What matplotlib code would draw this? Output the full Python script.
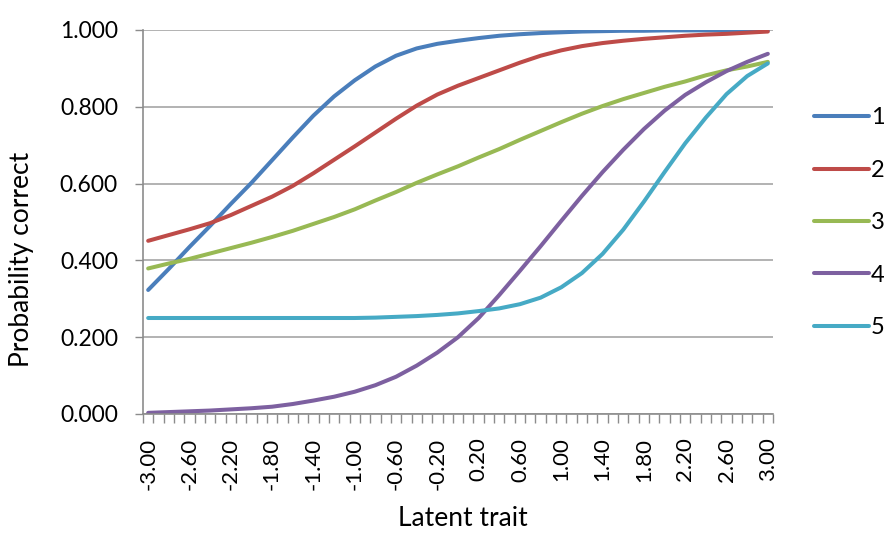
import matplotlib
matplotlib.use("Agg")
import matplotlib.pyplot as plt
import numpy as np

# latent trait values (every 0.2) and probability of a correct answer per item
theta = [-3.0, -2.8, -2.6, -2.4, -2.2, -2.0, -1.8, -1.6, -1.4, -1.2, -1.0,
         -0.8, -0.6, -0.4, -0.2, 0.0, 0.2, 0.4, 0.6, 0.8, 1.0,
         1.2, 1.4, 1.6, 1.8, 2.0, 2.2, 2.4, 2.6, 2.8, 3.0]

item_1 = [0.323, 0.378, 0.435, 0.490, 0.547, 0.602, 0.661, 0.720, 0.777, 0.827, 0.869,
          0.905, 0.933, 0.952, 0.964, 0.972, 0.979, 0.985, 0.989, 0.992, 0.994,
          0.996, 0.997, 0.998, 0.998, 0.999, 0.999, 0.999, 0.999, 0.999, 0.999]
item_2 = [0.451, 0.466, 0.481, 0.497, 0.518, 0.542, 0.566, 0.594, 0.627, 0.662, 0.697,
          0.733, 0.769, 0.803, 0.832, 0.855, 0.875, 0.895, 0.915, 0.933, 0.947,
          0.958, 0.966, 0.972, 0.977, 0.981, 0.985, 0.988, 0.990, 0.993, 0.996]
item_3 = [0.379, 0.392, 0.404, 0.418, 0.432, 0.446, 0.461, 0.477, 0.495, 0.513, 0.533,
          0.556, 0.578, 0.602, 0.624, 0.645, 0.668, 0.690, 0.714, 0.737, 0.760,
          0.782, 0.802, 0.820, 0.836, 0.852, 0.866, 0.882, 0.895, 0.905, 0.917]
item_4 = [0.003, 0.005, 0.007, 0.009, 0.012, 0.015, 0.019, 0.026, 0.035, 0.045, 0.058,
          0.075, 0.097, 0.126, 0.160, 0.200, 0.250, 0.310, 0.373, 0.437, 0.503,
          0.568, 0.630, 0.688, 0.742, 0.790, 0.831, 0.864, 0.893, 0.917, 0.938]
item_5 = [0.250, 0.250, 0.250, 0.250, 0.250, 0.250, 0.250, 0.250, 0.250, 0.250, 0.250,
          0.251, 0.253, 0.255, 0.258, 0.262, 0.268, 0.275, 0.286, 0.303, 0.330,
          0.367, 0.417, 0.480, 0.553, 0.630, 0.705, 0.772, 0.833, 0.880, 0.913]

series = {"1": item_1, "2": item_2, "3": item_3, "4": item_4, "5": item_5}
COLORS = {"1": "#4A7EBB", "2": "#BE4B48", "3": "#98B954", "4": "#7D60A0", "5": "#46AAC5"}

x_labels = [f"{v:.2f}" for v in np.arange(-3.0, 3.01, 0.4)]
y_ticks = [0.0, 0.2, 0.4, 0.6, 0.8, 1.0]

plt.rcParams.update({"font.family": ["Lato", "DejaVu Sans"], "font.size": 16})
fig = plt.figure(figsize=(8.84, 5.33), dpi=100, facecolor="white")
ax = fig.add_axes([143 / 884, 1 - 414 / 533, 630 / 884, 384 / 533])

for name, values in series.items():
    ax.plot(theta, values, color=COLORS[name], linewidth=2.9, label=name,
            solid_capstyle="round", solid_joinstyle="round")

ax.set_xlim(-3.05, 3.05)
ax.set_ylim(0, 1.0)
ax.set_yticks(y_ticks)
ax.set_yticklabels([f"{v:.3f}" for v in y_ticks])
ax.yaxis.grid(True, color="#A6A6A6", linewidth=1.2)
ax.set_axisbelow(True)

ax.set_xticks(np.arange(-3.0, 3.01, 0.4))
ax.set_xticklabels(x_labels, rotation=90)
ax.set_xticks(np.arange(-3.05, 3.06, 0.1), minor=True)
ax.tick_params(axis="x", which="major", length=0, pad=17, labelsize=16)
ax.tick_params(axis="x", which="minor", length=6.5, width=1, color="#8C8C8C", direction="out")
ax.tick_params(axis="y", which="major", length=6, width=1, color="#8C8C8C", pad=12, labelsize=16.5)

for side in ["top", "right"]:
    ax.spines[side].set_visible(False)
for side in ["left", "bottom"]:
    ax.spines[side].set_color("#8C8C8C")
    ax.spines[side].set_linewidth(1.2)

fig.text(22 / 884, 1 - 259 / 533, "Probability correct", rotation=90,
         ha="center", va="center", fontsize=19)
fig.text(463 / 884, 1 - 518 / 533, "Latent trait", ha="center", va="center", fontsize=19)

fig.legend(loc="upper left", bbox_to_anchor=(805 / 884, 1 - 98 / 533), frameon=False,
           handlelength=2.3, handletextpad=0.1, labelspacing=1.33, fontsize=17,
           borderaxespad=0)

fig.savefig("out.png", dpi=100, facecolor="white")
